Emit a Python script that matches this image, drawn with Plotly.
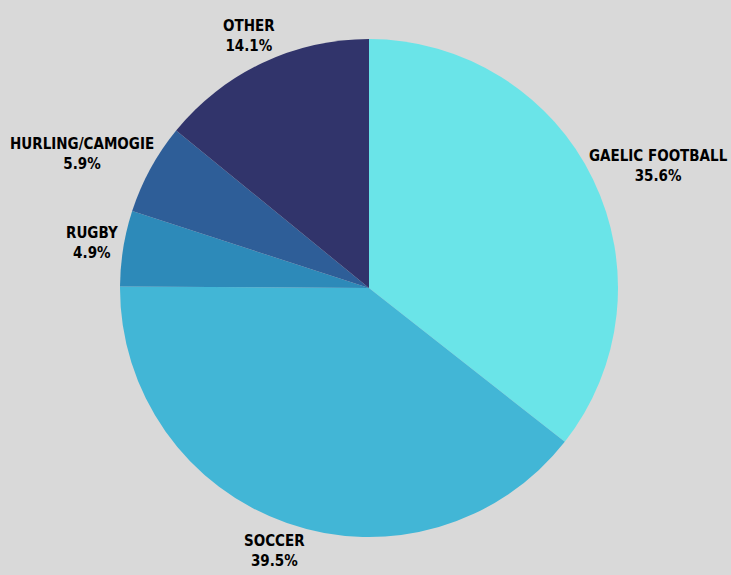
import math
import plotly.graph_objects as go

labels = ["GAELIC FOOTBALL", "SOCCER", "RUGBY", "HURLING/CAMOGIE", "OTHER"]
values = [35.6, 39.5, 4.9, 5.9, 14.1]
colors = ["#6AE4E8", "#42B6D6", "#2D8AB9", "#2E5E98", "#31346B"]

W, H = 731, 575
cx, cy, r = 369, 288, 249
FONT = "DejaVu Sans Condensed"
FS = 15

fig = go.Figure(go.Pie(
    labels=labels,
    values=values,
    sort=False,
    direction="clockwise",
    rotation=0,
    marker=dict(colors=colors, line=dict(width=0)),
    textinfo="none",
    hoverinfo="label+percent",
    showlegend=False,
    domain=dict(x=[(cx - r) / W, (cx + r) / W], y=[1 - (cy + r) / H, 1 - (cy - r) / H]),
))

# labels placed outside each slice, along the slice's mid-angle
total = sum(values)
cum = 0.0
for lab, val in zip(labels, values):
    mid = (cum + val / 2) / total * 2 * math.pi
    cum += val
    s, c = math.sin(mid), math.cos(mid)
    pct = f"{val:.1f}%"
    w = max(len(lab), len(pct)) * 9.4
    h = 44
    px = cx + (r + 8) * s + (w / 2) * s
    py = cy - (r + 8) * c - (h / 2) * c
    px = min(max(px, w / 2 + 2), W - w / 2 - 2)
    py = min(max(py, h / 2 + 2), H - h / 2 - 2)
    fig.add_annotation(
        x=px / W, y=1 - py / H, xref="paper", yref="paper",
        text=f"<b>{lab}</b><br><b>{pct}</b>",
        showarrow=False, xanchor="center", yanchor="middle", align="center",
        font=dict(family=FONT, size=FS, color="#000000"),
    )

fig.update_layout(
    width=W, height=H,
    margin=dict(l=0, r=0, t=0, b=0),
    paper_bgcolor="#D9D9D9",
    plot_bgcolor="#D9D9D9",
)

fig.write_html("out.html")
